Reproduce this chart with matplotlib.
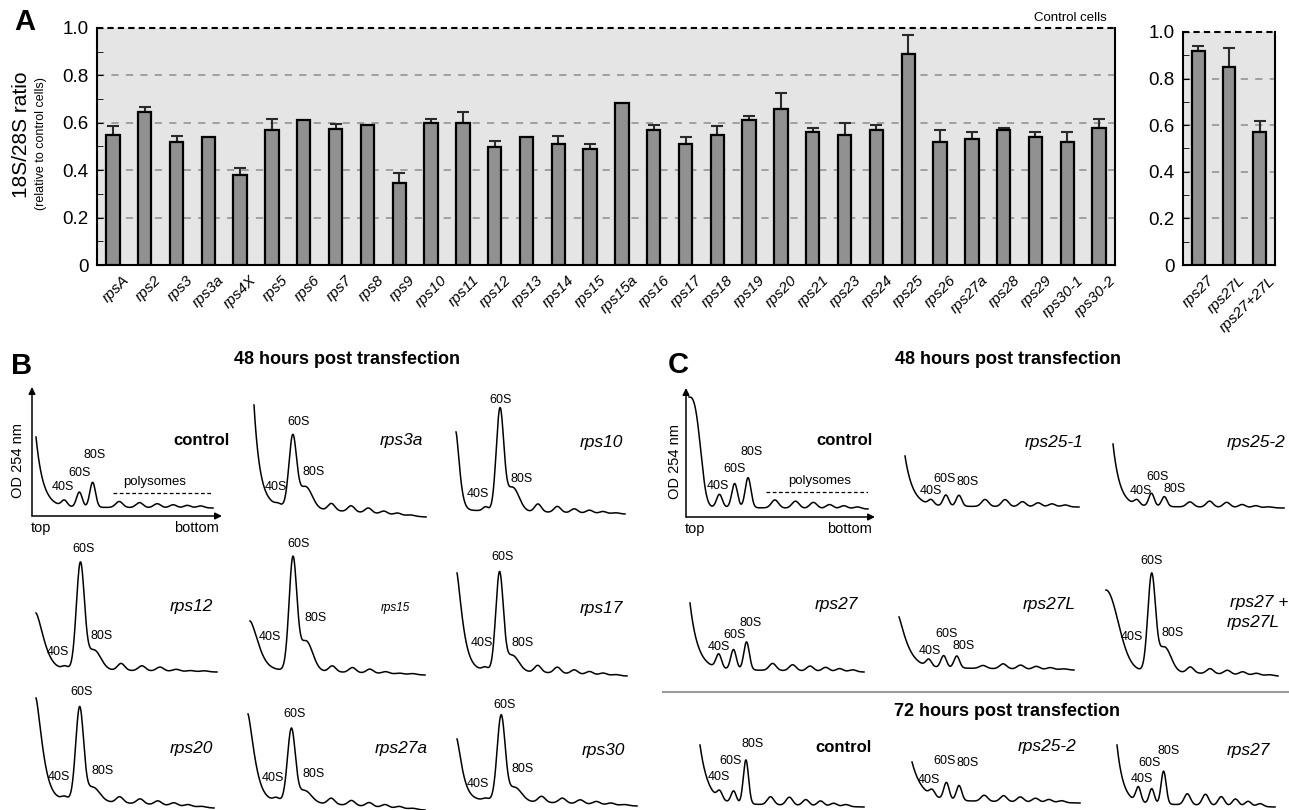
import numpy as np
import matplotlib
matplotlib.use('Agg')
import matplotlib.pyplot as plt
from matplotlib.lines import Line2D
from matplotlib.transforms import ScaledTranslation

plt.rcParams['font.family'] = ['Liberation Sans', 'DejaVu Sans']

W, H = 1289, 810

# ---------------- panel A data ----------------
genes = ['rpsA', 'rps2', 'rps3', 'rps3a', 'rps4X', 'rps5', 'rps6', 'rps7', 'rps8', 'rps9',
         'rps10', 'rps11', 'rps12', 'rps13', 'rps14', 'rps15', 'rps15a', 'rps16', 'rps17',
         'rps18', 'rps19', 'rps20', 'rps21', 'rps23', 'rps24', 'rps25', 'rps26', 'rps27a',
         'rps28', 'rps29', 'rps30-1', 'rps30-2']
ratio = [0.55, 0.645, 0.52, 0.54, 0.38, 0.57, 0.61, 0.575, 0.59, 0.345,
         0.60, 0.60, 0.50, 0.54, 0.51, 0.49, 0.685, 0.57, 0.51,
         0.55, 0.61, 0.66, 0.56, 0.55, 0.57, 0.89, 0.52, 0.53,
         0.57, 0.54, 0.52, 0.58]
err = [0.035, 0.02, 0.025, 0.0, 0.03, 0.045, 0.0, 0.02, 0.0, 0.045,
       0.015, 0.045, 0.025, 0.0, 0.035, 0.02, 0.0, 0.02, 0.03,
       0.035, 0.02, 0.065, 0.02, 0.05, 0.02, 0.08, 0.05, 0.03,
       0.01, 0.02, 0.04, 0.035]

genes27 = ['rps27', 'rps27L', 'rps27+27L']
ratio27 = [0.92, 0.85, 0.57]
err27 = [0.02, 0.08, 0.05]

# ---------------- panels B / C data (polysome profiles, OD254 in px units) ----------------
prof_names = ['control', 'rps3a', 'rps10', 'rps12', 'rps15', 'rps17', 'rps20', 'rps27a', 'rps30',
              'control', 'rps25-1', 'rps25-2', 'rps27', 'rps27L', 'rps27 +',
              'control', 'rps25-2', 'rps27']
start_height = [70, 100, 78, 56, 48, 96, 100, 85, 60,
                110, 50, 62, 66, 50, 80, 58, 38, 58]
baseline_tilt = [1, 12, 4, 3, 6, 7, 10, 11, 7,
                 2, 1, 2, 3, 3, 6, 4, 3, 4]
h40 = [6, 2, 4, 3, 0, 3, 3, 3, 2,
       13, 5, 5, 14, 7, 0, 8, 6, 15]
h60 = [15, 70, 100, 105, 110, 97, 92, 72, 84,
       24, 11, 13, 20, 12, 95, 12, 17, 15]
h80 = [25, 22, 24, 20, 30, 16, 14, 12, 14,
       30, 11, 10, 28, 12, 25, 44, 15, 33]
poly_heights = [[6, 5, 4, 3, 2.5, 2], [7, 6, 5, 3, 2, 1], [8, 6, 4, 3, 2, 1],
                [7, 5, 4, 2, 1, 1], [6, 5, 4, 2, 1, 1], [7, 6, 4, 3, 2, 1],
                [6, 5, 4, 3, 2, 1], [6, 5, 4, 3, 2, 1], [6, 5, 4, 3, 2, 1],
                [8, 7, 6, 4, 3, 2], [7, 7, 5, 4, 3, 2], [5, 6, 5, 3, 2, 1],
                [7, 6, 5, 4, 3, 2], [3, 5, 4, 3, 2, 1], [6, 5, 4, 3, 2, 1],
                [8, 8, 6, 5, 3, 2], [6, 6, 5, 4, 3, 2], [11, 11, 9, 7, 5, 3]]

# shape of the top-of-gradient decay and peak offsets (style)
decay_tau = [.04, .035, .03, .06, .065, .045, .05, .05, .04,
             .075, .045, .04, .045, .06, .10, .05, .06, .04]
decay_pow = [1, 1, 1.5, 1.5, 1.6, 1.3, 1.4, 1.4, 1.3,
             3, 1, 1, 1, 1.2, 2, 1, 1, 1]
peak_shift = [0, -0.02, 0.015, 0, 0, 0.005, 0, 0, 0,
              0.01, -0.01, -0.02, 0.005, 0.01, 0.02, -0.04, -0.04, -0.025]
broad = [False, True, True, True, True, True, True, True, True,
         False, False, False, False, False, True, False, False, False]

# layout: (start x px, end y px, length px)
boxes = [(36, 508, 177), (254, 517, 172), (456, 514, 169),
         (36, 672, 181), (250, 675, 175), (457, 676, 170),
         (36, 808, 178), (248, 810, 177), (457, 806, 180),
         (689, 509, 179), (905, 507, 174), (1113, 508, 171),
         (690, 672, 174), (899, 670, 175), (1106, 676, 172),
         (700, 807, 164), (912, 803, 168), (1117, 807, 158)]
name_xy = [(230, 441), (423, 441), (623, 443), (213, 607), (410, 608), (623, 608),
           (213, 749), (428, 749), (625, 750),
           (873, 441), (1083, 443), (1285, 443), (858, 605), (1076, 605), (1288, 602),
           (872, 747), (1076, 747), (1270, 750)]
# centres of the 40S / 60S / 80S labels (px)
peak_lab_xy = [[(63, 487), (80, 473), (95, 455)], [(276, 487), (299, 422), (314, 472)],
               [(478, 494), (501, 400), (522, 479)], [(58, 652), (84, 549), (102, 636)],
               [(270, 637), (299, 544), (316, 618)], [(482, 643), (503, 557), (523, 643)],
               [(59, 777), (82, 692), (103, 771)], [(273, 778), (295, 714), (314, 774)],
               [(478, 784), (505, 705), (523, 769)],
               [(718, 486), (735, 469), (752, 452)], [(931, 491), (945, 479), (968, 482)],
               [(1141, 491), (1158, 477), (1175, 489)], [(719, 647), (735, 635), (751, 623)],
               [(930, 651), (947, 634), (964, 646)], [(1132, 637), (1152, 561), (1173, 633)],
               [(719, 777), (731, 761), (753, 744)], [(929, 780), (945, 761), (968, 763)],
               [(1142, 779), (1150, 763), (1169, 751)]]

PEAK_POS = (0.16, 0.245, 0.32)
POLY_POS = (0.47, 0.585, 0.685, 0.775, 0.855, 0.93)


def rect(x0, y0, x1, y1):
    return [x0 / W, 1 - y1 / H, (x1 - x0) / W, (y1 - y0) / H]


def ftext(x, y, s, **kw):
    fig.text(x / W, 1 - y / H, s, **kw)


def profile_curve(u, i):
    y = baseline_tilt[i] * (1 - u) + start_height[i] * np.exp(-(u / decay_tau[i]) ** decay_pow[i])
    widths = (0.016, 0.022, 0.038) if broad[i] else (0.016, 0.016, 0.016)
    for c, hh, s in zip(PEAK_POS, (h40[i], h60[i], h80[i]), widths):
        y = y + hh * np.exp(-0.5 * ((u - c - peak_shift[i]) / s) ** 2)
    for c, hh in zip(POLY_POS, poly_heights[i]):
        y = y + hh * np.exp(-0.5 * ((u - c - peak_shift[i]) / 0.02) ** 2)
    return y


fig = plt.figure(figsize=(W / 100, H / 100), dpi=100)

# ---------------- panel A ----------------
def bar_panel(ax, labels, vals, errs):
    x = np.arange(len(labels))
    vals = np.array(vals)
    errs = np.array(errs)
    ax.set_facecolor('#e5e5e5')
    for v in [0.2, 0.4, 0.6, 0.8]:
        ax.axhline(v, color='#9a9a9a', ls=(0, (4, 4)), lw=1.3, zorder=1)
    m = errs > 0
    ax.errorbar(x[m], vals[m], yerr=[np.zeros(m.sum()), errs[m]], fmt='none',
                ecolor='#2a2a2a', elinewidth=1.5, capsize=4.5, capthick=1.5, zorder=2)
    ax.bar(x, vals, width=0.42, color='#919191', edgecolor='black', linewidth=1.6, zorder=3)
    ax.set_xlim(-0.5, len(labels) - 0.5)
    ax.set_ylim(0, 1)
    ax.spines['top'].set_visible(False)
    ax.axhline(1.0, color='black', ls=(0, (3, 2)), lw=1.5, clip_on=False, zorder=5)
    for s in ['left', 'right', 'bottom']:
        ax.spines[s].set_linewidth(1.5)
    ax.set_yticks([0, 0.2, 0.4, 0.6, 0.8, 1.0])
    ax.set_yticklabels(['0', '0.2', '0.4', '0.6', '0.8', '1.0'])
    ax.set_yticks(np.arange(0.1, 1.0, 0.2), minor=True)
    ax.tick_params(axis='y', which='both', direction='in', length=4, labelsize=13.5, pad=6)
    ax.set_xticks(x)
    ax.set_xticklabels(labels, rotation=45, ha='right', va='top', rotation_mode='anchor',
                       fontsize=11, style='italic')
    ax.tick_params(axis='x', length=0, pad=6)
    off = ScaledTranslation(9 / 100, 0, fig.dpi_scale_trans)
    for t in ax.get_xticklabels():
        t.set_transform(t.get_transform() + off)


axA = fig.add_axes(rect(97, 28, 1115, 265))
bar_panel(axA, genes, ratio, err)
axA2 = fig.add_axes(rect(1183, 32, 1275, 265))
bar_panel(axA2, genes27, ratio27, err27)

ftext(1107, 18, 'Control cells', fontsize=9.5, ha='right', va='center')
ftext(22, 135, '18S/28S ratio', fontsize=15, rotation=90, ha='center', va='center')
ftext(41, 144, '(relative to control cells)', fontsize=9, rotation=90, ha='center', va='center')
ftext(25, 22, 'A', fontsize=21, fontweight='bold', ha='center', va='center')
ftext(22, 366, 'B', fontsize=21, fontweight='bold', ha='center', va='center')
ftext(678, 365, 'C', fontsize=21, fontweight='bold', ha='center', va='center')

ftext(347, 360, '48 hours post transfection', fontsize=13, fontweight='bold', ha='center', va='center')
ftext(1008, 360, '48 hours post transfection', fontsize=13, fontweight='bold', ha='center', va='center')
ftext(1007, 712, '72 hours post transfection', fontsize=13, fontweight='bold', ha='center', va='center')
fig.add_artist(Line2D([663 / W, 1], [1 - 692 / H, 1 - 692 / H], color='#9a9a9a', lw=1.5))

# ---------------- panels B / C ----------------
for i, (x0, yend, L) in enumerate(boxes):
    top = 150
    ax = fig.add_axes(rect(x0, yend - top, x0 + L, yend))
    ax.set_xlim(0, L)
    ax.set_ylim(0, top)
    ax.axis('off')
    u = np.linspace(0, 1, 600)
    ax.plot(u * L, profile_curve(u, i), color='black', lw=1.1, clip_on=False)
    for lab, (lx, ly) in zip(['40S', '60S', '80S'], peak_lab_xy[i]):
        ftext(lx, ly, lab, fontsize=9, ha='center', va='center')
    name = prof_names[i]
    nx, ny = name_xy[i]
    if name == 'control':
        ftext(nx, ny, name, fontsize=12, fontweight='bold', ha='right', va='center')
    elif i == 4:
        ftext(nx, ny, name, fontsize=8.5, style='italic', ha='right', va='center')
    else:
        ftext(nx, ny, name, fontsize=12.5, style='italic', ha='right', va='center')
    if i == 14:
        ftext(1280, 622, 'rps27L', fontsize=12.5, style='italic', ha='right', va='center')

    if i in (0, 9):
        # axes with arrows and labels for the control profiles
        ox, oy = (-4, -8) if i == 0 else (-3, -8)
        ap = dict(arrowstyle='-|>', color='black', lw=1.1, mutation_scale=10, shrinkA=0, shrinkB=0)
        ax.annotate('', xy=(ox, 121), xytext=(ox, oy), arrowprops=ap, annotation_clip=False)
        ax.annotate('', xy=(186, oy), xytext=(ox, oy), arrowprops=ap, annotation_clip=False)
        ax.text(ox - 1, oy - 12, 'top', fontsize=10.5, ha='left', va='center', clip_on=False)
        ax.text(183, oy - 12, 'bottom', fontsize=10.5, ha='right', va='center', clip_on=False)
        ax.text(-18 if i == 0 else -14, 48, 'OD 254 nm', fontsize=10.5, rotation=90,
                ha='center', va='center', clip_on=False)
        ptx, pty, dly = (119, 26, 15) if i == 0 else (131, 28, 17)
        ax.text(ptx, pty, 'polysomes', fontsize=9.5, ha='center', va='center')
        ax.plot([77, 182], [dly, dly], color='black', lw=0.9, ls=(0, (3, 2)))

fig.savefig('out.png', dpi=100)
